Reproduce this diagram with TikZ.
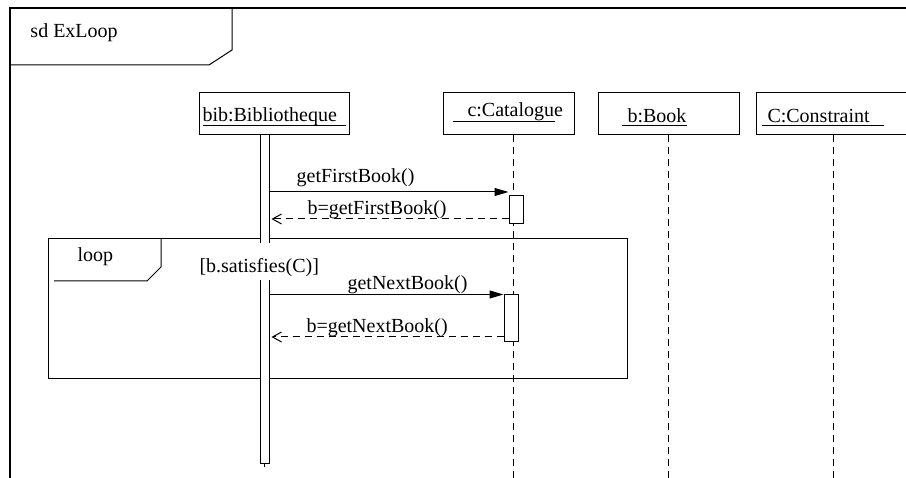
\documentclass[tikz,border=0pt]{standalone}
\usepackage{fontspec}
\setmainfont{Liberation Serif}
\usepackage{tikz}
\usetikzlibrary{positioning,arrows.meta}

\begin{document}
\begin{tikzpicture}[x=1pt, y=-1pt, line width=1pt,
  font=\fontsize{20}{24}\selectfont,
  head/.style={draw, fill=white, minimum height=42pt, inner sep=0pt},
  txt/.style={inner sep=0pt, anchor=base west},
  lifeline/.style={dash pattern=on 7pt off 5pt},
  act/.style={draw, fill=white, minimum width=14pt, inner sep=0pt},
  msglabel/.style={inner sep=0pt},
  call/.style={-{Triangle[length=14pt, width=8pt]}},
  reply/.style={dash pattern=on 7pt off 5pt, -{Straight Barb[length=9pt, width=10pt]}, shorten >=2pt}]
  \useasboundingbox (0,0) rectangle (906,478);

  % Frame sd
  \draw[line width=1.3pt] (906,8) -- (10,8) -- (10,478);
  \draw (10,65) -- (209,65) -- (232,50) -- (232,8);
  \node[txt] (sdname) at (30,38) {sd ExLoop};

  % Heads
  \node[head, minimum width=150pt] (bib) at (274,114) {};
  \node[head, minimum width=131pt] (cat) at (508.5,114) {};
  \node[head, minimum width=141pt] (book) at (668.5,114) {};
  \node[head, minimum width=153pt] (cons) at (833,114) {};
  \node[txt] (bibname) at (202,122) {bib:Bibliotheque};
  \draw (203,126) -- (346,126);
  \node[txt] (catname) at (467,117) {c:Catalogue};
  \draw (453,122) -- (555,122);
  \node[txt] (bookname) at (627,123) {b:Book};
  \draw (622,126) -- (687,126);
  \node[txt] (consname) at (767,123) {C:Constraint};
  \draw (762,126) -- (884,126);

  % Lifelines
  \coordinate (catEnd) at (513,478);
  \coordinate (bookEnd) at (668.5,478);
  \coordinate (consEnd) at (833,478);
  \draw[lifeline] (cat.south -| catEnd) -- (catEnd);
  \draw[lifeline] (book.south) -- (bookEnd);
  \draw[lifeline] (cons.south) -- (consEnd);

  % Loop fragment
  \draw (48,239) rectangle (627,379);
  \draw (54,281) -- (147,281) -- (161,267) -- (161,239);
  \node[txt] (looplabel) at (77,262) {loop};

  % Activations
  \node[act, minimum width=9pt, minimum height=329pt] (bar) at (264.5,299.5) {};
  \coordinate (bibEnd) at (264.5,467);
  \draw (bar.south) -- (bibEnd);
  \node[act, minimum height=28pt] (act1) at (516,210) {};
  \node[act, minimum height=47pt] (act2) at (511,318.5) {};

  % Guard
  \node[txt, fill=white, inner sep=2pt, text height=28pt, text depth=5pt] (guard) at (197,273) {[b.satisfies(C)]};

  % Messages
  \coordinate (row1) at (0,192);
  \coordinate (row2) at (0,219);
  \coordinate (row4) at (0,337);
  \draw[call] (bar.east |- row1) -- node[msglabel, pos=.36, above=5pt] (m1) {getFirstBook()} (act1.west |- row1);
  \draw[reply] (act1.west |- row2) -- node[msglabel, pos=.55, above=0pt] (r1) {b=getFirstBook()} (bar.east |- row2);
  \draw[call] (bar.east |- act2.north) -- node[msglabel, pos=.59, above=0pt] (m2) {getNextBook()} (act2.north west);
  \draw[reply] (act2.west |- row4) -- node[msglabel, pos=.54, above=0pt] (r2) {b=getNextBook()} (bar.east |- row4);
\end{tikzpicture}
\end{document}
